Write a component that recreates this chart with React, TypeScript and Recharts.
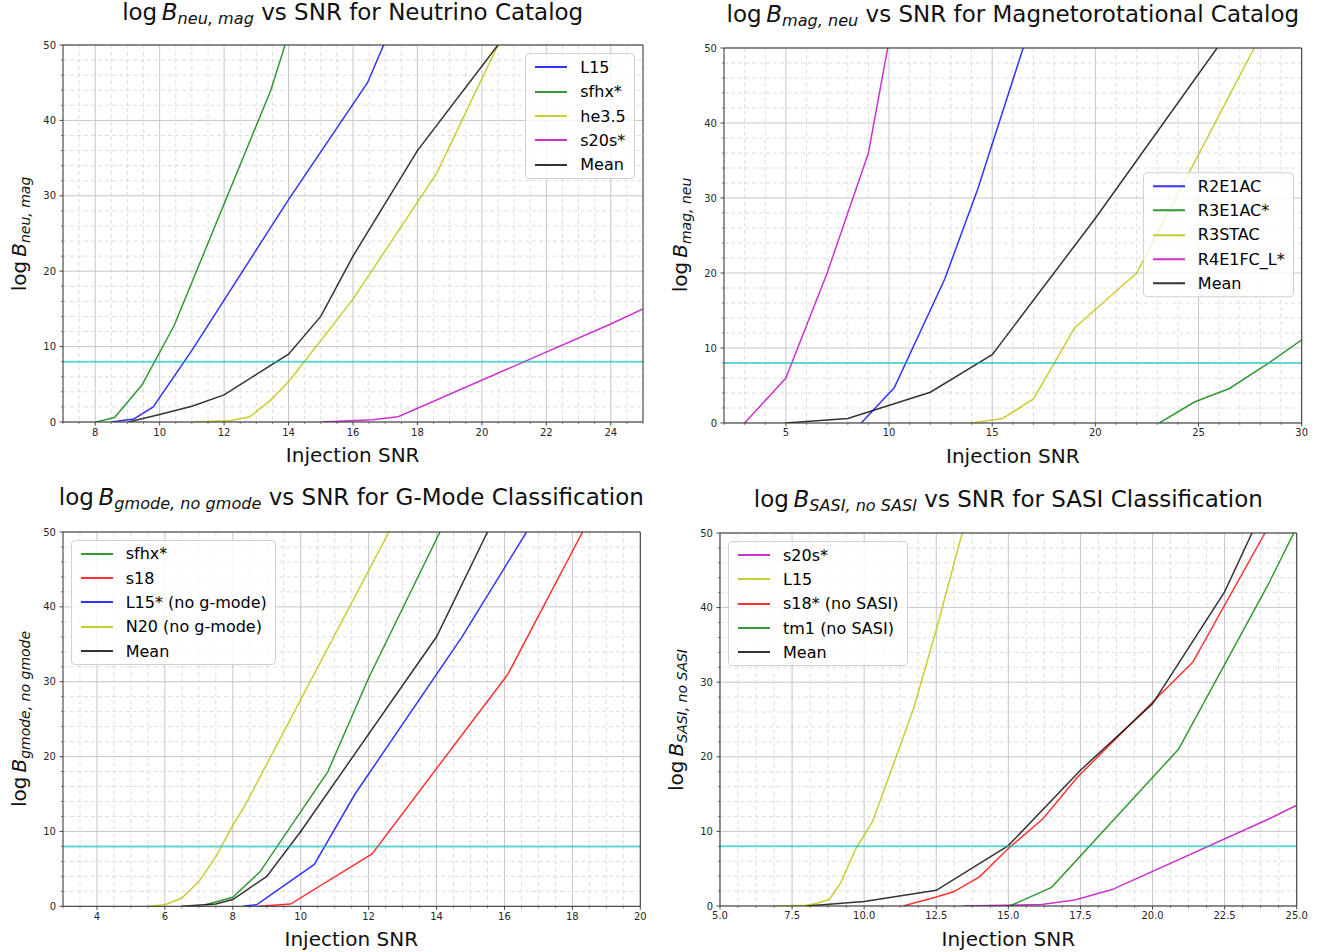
import React from "react";
import { LineChart, Line, XAxis, YAxis, CartesianGrid, ReferenceLine } from "recharts";

// [injection SNR, log Bayes factor]

// Neutrino catalog
const neuL15 = [[8.5, 0], [9.2, 0.4], [9.8, 2], [11, 9.5], [14, 29.5], [16.45, 45], [17.05, 51]];
const neuSfhx = [[8.03, 0], [8.6, 0.6], [9.45, 4.9], [10.45, 12.8], [13.45, 44], [14, 51.5]];
const neuHe35 = [[11.05, 0], [12.2, 0.2], [12.8, 0.7], [13.45, 2.9], [14.05, 5.6], [16, 16.3], [18.6, 33], [20.5, 50]];
const neuS20s = [[15.05, 0], [16.6, 0.3], [17.4, 0.7], [24, 13], [25, 15]];
const neuMean = [[9.03, 0], [10, 1], [11, 2.1], [12, 3.6], [14, 9], [15, 14], [16, 22], [18, 36], [20.5, 50]];

// Magnetorotational catalog
const magR2E1AC = [[8.65, 0], [10.25, 4.7], [12.7, 19.2], [14.3, 31.2], [16.5, 50]];
const magR3E1AC = [[23.1, 0], [24.8, 2.8], [26.5, 4.6], [28.3, 7.8], [30, 11.1]];
const magR3STAC = [[14, 0], [15.5, 0.6], [17, 3.2], [19, 12.7], [22, 20], [27.7, 50]];
const magR4E1FC = [[3, 0], [5, 6], [7, 20], [9, 36], [10, 51]];
const magMean = [[5, 0], [8, 0.6], [12, 4.1], [15, 9.1], [20, 27.3], [25.9, 50]];

// G-mode classification
const gmSfhx = [[7.2, 0.2], [8, 1.2], [8.8, 4.6], [10.8, 18], [12, 30.5], [14.1, 50]];
const gmS18 = [[8.75, 0], [9.7, 0.3], [12.1, 7], [16.1, 31], [18.3, 50]];
const gmL15 = [[8.3, 0], [8.7, 0.2], [10.4, 5.6], [11.6, 15], [14.75, 36], [16.65, 50]];
const gmN20 = [[5.5, 0], [6, 0.2], [6.5, 1.1], [7, 3.3], [7.5, 6.6], [8, 10.8], [8.35, 13.4], [12.6, 50]];
const gmMean = [[6.5, 0], [7.5, 0.3], [8, 0.9], [9, 4], [10, 10], [14, 36], [15.5, 50]];

// SASI classification
const sasiS20s = [[13.45, 0], [16.15, 0.2], [17.3, 0.8], [18.6, 2.2], [24.05, 11.7], [25, 13.5]];
const sasiL15 = [[6.9, 0], [8, 0.1], [8.4, 0.4], [8.8, 0.9], [9.2, 3.2], [9.7, 7.6], [10.3, 11.4], [11.7, 26.3], [12.5, 37], [13.4, 50]];
const sasiS18 = [[11.35, 0], [12.5, 1.2], [13.1, 1.9], [14, 3.9], [15, 7.7], [16.2, 11.7], [17.4, 17.3], [20, 27.3], [21.4, 32.7], [23.9, 50]];
const sasiTm1 = [[15.05, 0], [16.5, 2.5], [20.9, 21], [24, 43], [24.9, 50]];
const sasiMean = [[8, 0], [10, 0.6], [12.5, 2.1], [15, 8.1], [17.5, 18.2], [20, 27.1], [22.5, 42.1], [23.45, 50]];

// ticks
const yMajor = [0, 10, 20, 30, 40, 50];
const neuXMajor = [8, 10, 12, 14, 16, 18, 20, 22, 24];
const magXMajor = [5, 10, 15, 20, 25, 30];
const gmXMajor = [4, 6, 8, 10, 12, 14, 16, 18, 20];
const sasiXMajor = [5, 7.5, 10, 12.5, 15, 17.5, 20, 22.5, 25];
const threshold = 8;

const B = "#0000ff", G = "#008000", Y = "#bfbf00", M = "#bf00bf", K = "#000000", R = "#ff0000";

const steps = (lo: number, hi: number, st: number) => {
  const out: number[] = [];
  for (let i = 0; lo + i * st <= hi + 1e-9; i++) out.push(+(lo + i * st).toFixed(4));
  return out;
};
const isOn = (v: number, list: number[]) => list.some((m) => Math.abs(m - v) < 1e-6);
const rows = (pts: number[][]) => pts.map(([x, y]) => ({ x, y }));

const FONT = "DejaVu Sans";
const TITLE_FS = 23;

const LogB = ({ sub }: { sub: string }) => (
  <span>
    log<span style={{ fontStyle: "italic", marginLeft: "0.2em" }}>B</span>
    <span style={{ fontStyle: "italic", fontSize: "0.7em", position: "relative", top: "0.3em" }}>{sub}</span>
  </span>
);

const LegendBox = ({ series, style }: any) => (
  <div
    style={{
      position: "absolute",
      ...style,
      background: "rgba(255,255,255,0.8)",
      border: "1px solid #d0d0d0",
      borderRadius: 4,
      padding: "1px 8px 1px 9px",
      fontSize: 16,
      color: "#000",
    }}
  >
    {series.map((s: any) => (
      <div key={s.name} style={{ display: "flex", alignItems: "center", height: 24.3, whiteSpace: "nowrap" }}>
        <span style={{ display: "inline-block", width: 32, height: 0, borderTop: `2px solid ${s.color}`, opacity: 0.8, marginRight: 13 }} />
        <span>{s.name}</span>
      </div>
    ))}
  </div>
);

const Panel = ({ p }: any) => {
  const { x0, y0, x1, y1 } = p.box;
  const YW = 50, TOP = 6, RIGHT = 24, XH = 30;
  const xMinor = steps(p.xDomain[0], p.xDomain[1], p.xStep).filter((v) => !isOn(v, p.xMajor));
  const yMinor = steps(0, 50, 2).filter((v) => !isOn(v, yMajor));
  const xAll = [...xMinor, ...p.xMajor].sort((a, b) => a - b);
  const yAll = [...yMinor, ...yMajor].sort((a, b) => a - b);
  const cx = (x0 + x1) / 2;
  const cy = (y0 + y1) / 2;

  const xTick = (t: any) => {
    const big = isOn(t.payload.value, p.xMajor);
    return (
      <g>
        <line x1={t.x} x2={t.x} y1={t.y} y2={t.y + (big ? 3.5 : 2)} stroke="#333" strokeWidth={big ? 0.9 : 0.6} />
        {big && (
          <text x={t.x} y={t.y + 13.5} textAnchor="middle" fontSize={10} fill="#262626" fontFamily={FONT}>
            {p.fmt(t.payload.value)}
          </text>
        )}
      </g>
    );
  };
  const yTick = (t: any) => {
    const big = isOn(t.payload.value, yMajor);
    return (
      <g>
        <line x1={t.x} x2={t.x - (big ? 3.5 : 2)} y1={t.y} y2={t.y} stroke="#333" strokeWidth={big ? 0.9 : 0.6} />
        {big && (
          <text x={t.x - 7} y={t.y + 3.6} textAnchor="end" fontSize={10} fill="#262626" fontFamily={FONT}>
            {t.payload.value}
          </text>
        )}
      </g>
    );
  };

  let legendStyle: any = {};
  if (p.legend === "ur") legendStyle = { right: 1329 - (x1 - 8), top: y0 + 8 };
  if (p.legend === "cr") legendStyle = { right: 1329 - (x1 - 8), top: cy, transform: "translateY(-50%)" };
  if (p.legend === "ul") legendStyle = { left: x0 + 8, top: y0 + 8 };

  return (
    <>
      <div
        style={{
          position: "absolute",
          left: cx,
          top: p.titleBase - 0.846 * TITLE_FS,
          transform: "translateX(-50%)",
          fontSize: TITLE_FS,
          lineHeight: 1,
          whiteSpace: "nowrap",
          color: "#111",
        }}
      >
        <LogB sub={p.sub} /> {p.titleRest}
      </div>
      <div
        style={{
          position: "absolute",
          left: x0 - 44,
          top: cy,
          transform: "translate(-50%,-50%) rotate(-90deg)",
          fontSize: 20,
          lineHeight: 1,
          whiteSpace: "nowrap",
          color: "#111",
        }}
      >
        <LogB sub={p.sub} />
      </div>
      <div
        style={{
          position: "absolute",
          left: cx,
          top: y1 + 40 - 0.846 * 20,
          transform: "translateX(-50%)",
          fontSize: 20,
          lineHeight: 1,
          whiteSpace: "nowrap",
          color: "#111",
        }}
      >
        Injection SNR
      </div>
      <div style={{ position: "absolute", left: x0 - YW, top: y0 - TOP }}>
        <LineChart
          width={x1 - x0 + YW + RIGHT}
          height={y1 - y0 + TOP + XH}
          margin={{ top: TOP, right: RIGHT, bottom: 0, left: 0 }}
        >
          <CartesianGrid stroke="#dedede" strokeDasharray="4 3" horizontalValues={yMinor} verticalValues={xMinor} />
          <CartesianGrid stroke="#c6c6c6" horizontalValues={yMajor} verticalValues={p.xMajor} />
          <XAxis
            type="number"
            dataKey="x"
            domain={p.xDomain}
            allowDataOverflow
            ticks={xAll}
            interval={0}
            tickSize={0}
            tickMargin={0}
            tickLine={false}
            axisLine={{ stroke: "#333" }}
            tick={xTick}
            height={XH}
          />
          <YAxis
            type="number"
            domain={[0, 50]}
            allowDataOverflow
            ticks={yAll}
            interval={0}
            tickSize={0}
            tickMargin={0}
            tickLine={false}
            axisLine={{ stroke: "#333" }}
            tick={yTick}
            width={YW}
          />
          {p.series.map((s: any) => (
            <Line
              key={s.name}
              data={rows(s.pts)}
              dataKey="y"
              type="linear"
              stroke={s.color}
              strokeOpacity={0.8}
              strokeWidth={1.5}
              dot={false}
              activeDot={false}
              isAnimationActive={false}
            />
          ))}
          <ReferenceLine y={threshold} stroke="#00bfbf" strokeOpacity={0.6} strokeWidth={2} />
          <ReferenceLine y={50} stroke="#333" />
          <ReferenceLine x={p.xDomain[1]} stroke="#333" />
        </LineChart>
      </div>
      <LegendBox series={p.series} style={legendStyle} />
    </>
  );
};

const panels = [
  {
    box: { x0: 62.7, y0: 45.3, x1: 642.7, y1: 422.3 },
    xDomain: [7, 25], xMajor: neuXMajor, xStep: 0.5, fmt: (v: number) => String(v),
    sub: "neu, mag", titleRest: "vs SNR for Neutrino Catalog", titleBase: 20, legend: "ur",
    series: [
      { name: "L15", color: B, pts: neuL15 },
      { name: "sfhx*", color: G, pts: neuSfhx },
      { name: "he3.5", color: Y, pts: neuHe35 },
      { name: "s20s*", color: M, pts: neuS20s },
      { name: "Mean", color: K, pts: neuMean },
    ],
  },
  {
    box: { x0: 724, y0: 47.5, x1: 1301.7, y1: 422.5 },
    xDomain: [2, 30], xMajor: magXMajor, xStep: 1, fmt: (v: number) => String(v),
    sub: "mag, neu", titleRest: "vs SNR for Magnetorotational Catalog", titleBase: 22, legend: "cr",
    series: [
      { name: "R2E1AC", color: B, pts: magR2E1AC },
      { name: "R3E1AC*", color: G, pts: magR3E1AC },
      { name: "R3STAC", color: Y, pts: magR3STAC },
      { name: "R4E1FC_L*", color: M, pts: magR4E1FC },
      { name: "Mean", color: K, pts: magMean },
    ],
  },
  {
    box: { x0: 62.7, y0: 531.7, x1: 640, y1: 906 },
    xDomain: [3, 20], xMajor: gmXMajor, xStep: 0.5, fmt: (v: number) => String(v),
    sub: "gmode, no gmode", titleRest: "vs SNR for G-Mode Classification", titleBase: 505, legend: "ul",
    series: [
      { name: "sfhx*", color: G, pts: gmSfhx },
      { name: "s18", color: R, pts: gmS18 },
      { name: "L15* (no g-mode)", color: B, pts: gmL15 },
      { name: "N20 (no g-mode)", color: Y, pts: gmN20 },
      { name: "Mean", color: K, pts: gmMean },
    ],
  },
  {
    box: { x0: 720, y0: 533, x1: 1296.7, y1: 906 },
    xDomain: [5, 25], xMajor: sasiXMajor, xStep: 0.625, fmt: (v: number) => v.toFixed(1),
    sub: "SASI, no SASI", titleRest: "vs SNR for SASI Classification", titleBase: 507, legend: "ul",
    series: [
      { name: "s20s*", color: M, pts: sasiS20s },
      { name: "L15", color: Y, pts: sasiL15 },
      { name: "s18* (no SASI)", color: R, pts: sasiS18 },
      { name: "tm1 (no SASI)", color: G, pts: sasiTm1 },
      { name: "Mean", color: K, pts: sasiMean },
    ],
  },
];

export default function App() {
  return (
    <div
      style={{
        position: "absolute",
        left: 0,
        top: 0,
        width: 1329,
        height: 952,
        background: "#fff",
        fontFamily: FONT,
        overflow: "hidden",
      }}
    >
      {panels.map((p, i) => (
        <Panel key={i} p={p} />
      ))}
    </div>
  );
}
